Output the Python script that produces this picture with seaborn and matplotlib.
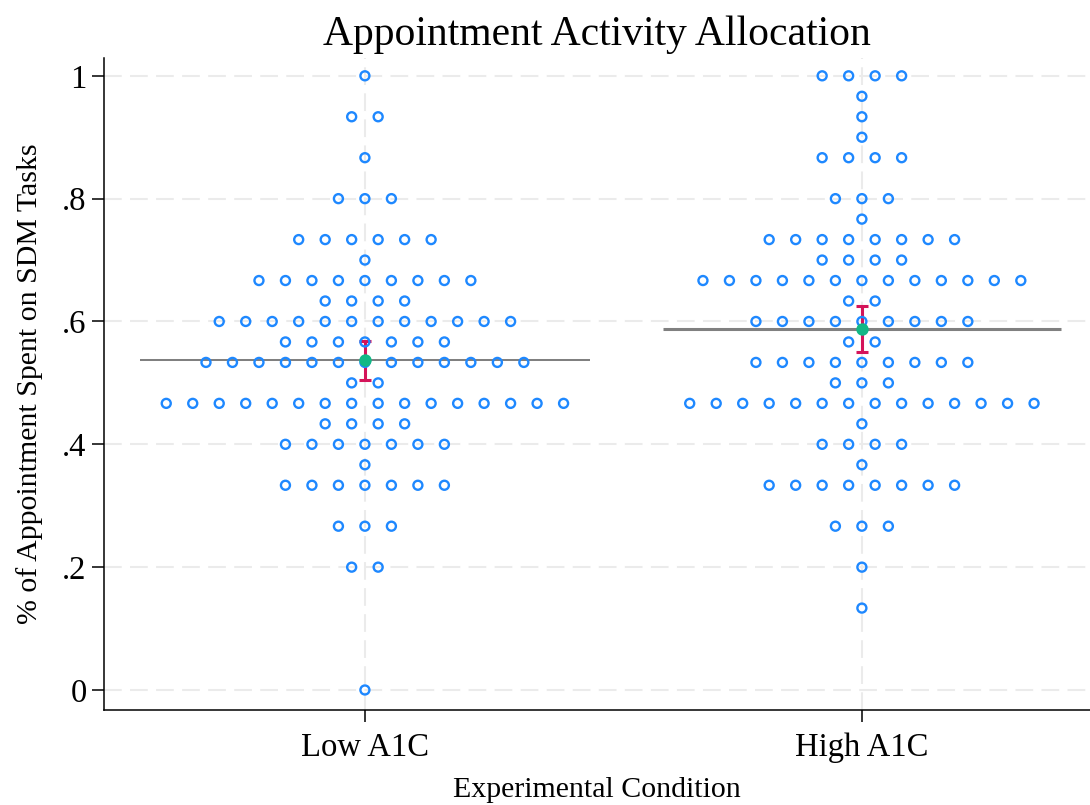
import numpy as np
import pandas as pd
import matplotlib
matplotlib.use("Agg")
import matplotlib.pyplot as plt
import seaborn as sns

# Share of appointment time spent on SDM tasks, recorded in thirtieths
conditions = ["Low A1C", "High A1C"]
low_levels = [30, 28, 26, 24, 22, 21, 20, 19, 18, 17, 16, 15, 14, 13, 12, 11, 10, 8, 6, 0]
low_counts = [1, 2, 1, 3, 6, 1, 9, 4, 12, 7, 13, 2, 16, 4, 7, 1, 7, 3, 2, 1]
high_levels = [30, 29, 28, 27, 26, 24, 23, 22, 21, 20, 19, 18, 17, 16, 15, 14, 13, 12, 11, 10, 8, 6, 4]
high_counts = [4, 1, 1, 1, 4, 3, 1, 8, 4, 13, 2, 9, 2, 9, 3, 14, 1, 4, 1, 8, 3, 1, 1]
y_ticks = [0, 0.2, 0.4, 0.6, 0.8, 1.0]
y_tick_labels = ["0", ".2", ".4", ".6", ".8", "1"]

BLUE = "#1e88ff"
RED = "#d4145a"
GREEN = "#12b886"
STEP = 0.0533          # horizontal spacing between stacked dots (axis units)
T_CRIT = 1.984         # two-sided 95% t critical value for n ~ 100

sns.set_style("white")
plt.rcParams["font.family"] = ["Liberation Serif", "DejaVu Serif"]
for key in ["text.color", "axes.labelcolor", "xtick.color", "ytick.color"]:
    plt.rcParams[key] = "black"

# Expand counts to one row per respondent, stacking ties side by side
rows = []
for gi, (levels, counts) in enumerate([(low_levels, low_counts), (high_levels, high_counts)]):
    for lev, n in zip(levels, counts):
        for k in range(n):
            rows.append({"condition": conditions[gi], "group": gi,
                         "share": lev / 30.0,
                         "xpos": gi + (k - (n - 1) / 2.0) * STEP})
df = pd.DataFrame(rows)

fig = plt.figure(figsize=(10.9, 8.05), dpi=100)
ax = fig.add_axes([104 / 1090, 95 / 805, 1 - 104 / 1090, (710 - 58) / 805])

grid_kw = dict(color="#ebebeb", lw=1.5, ls=(0, (8.5, 4)), zorder=0)
for yt in y_ticks:
    ax.axhline(yt, **grid_kw)
for gi in range(len(conditions)):
    ax.axvline(gi, **grid_kw)

# Mean line, 95% CI and mean marker per condition
summary = df.groupby("group")["share"].agg(["mean", "std", "count"])
widest = [max(low_counts), max(high_counts)]
line_w = [1.45, 2.2]
for gi, row in summary.iterrows():
    half = (widest[gi] / 2.0 + 0.5) * STEP
    ax.hlines(row["mean"], gi - half, gi + half, color="#808080", lw=line_w[gi], zorder=1)
    ci = T_CRIT * row["std"] / np.sqrt(row["count"])
    ax.errorbar(gi, row["mean"], yerr=ci, fmt="none", ecolor=RED, elinewidth=2.2,
                capsize=4.3, capthick=2.2, zorder=2)

sns.scatterplot(data=df, x="xpos", y="share", marker="o", s=42, linewidth=1.7,
                edgecolor=BLUE, color=BLUE, ax=ax, zorder=3, legend=False)
ax.collections[-1].set_facecolor("none")
ax.collections[-1].set_edgecolor(BLUE)

sns.scatterplot(x=summary.index.values, y=summary["mean"].values, marker="o", s=80,
                color=GREEN, edgecolor=GREEN, linewidth=0, ax=ax, zorder=4, legend=False)

ax.set_xlim(-0.525, 1.459)
ax.set_ylim(-0.0326, 1.029)
ax.set_xticks(range(len(conditions)))
ax.set_xticklabels(conditions)
ax.set_yticks(y_ticks)
ax.set_yticklabels(y_tick_labels)
ax.tick_params(axis="both", direction="out", length=8.5, width=1.1, labelsize=23.5,
               color="black", labelcolor="black", left=True, bottom=True)
ax.tick_params(axis="x", pad=8)
ax.tick_params(axis="y", pad=4)
for side in ["top", "right"]:
    ax.spines[side].set_visible(False)
for side in ["left", "bottom"]:
    ax.spines[side].set_color("black")
    ax.spines[side].set_linewidth(1.1)

ax.set_xlabel("Experimental Condition", fontsize=21.5, labelpad=10, color="black")
ax.set_ylabel("% of Appointment Spent on SDM Tasks", fontsize=21.5, labelpad=14, color="black")
ax.set_title("Appointment Activity Allocation", fontsize=30, pad=9, color="black")

fig.savefig("out.png", dpi=100)
